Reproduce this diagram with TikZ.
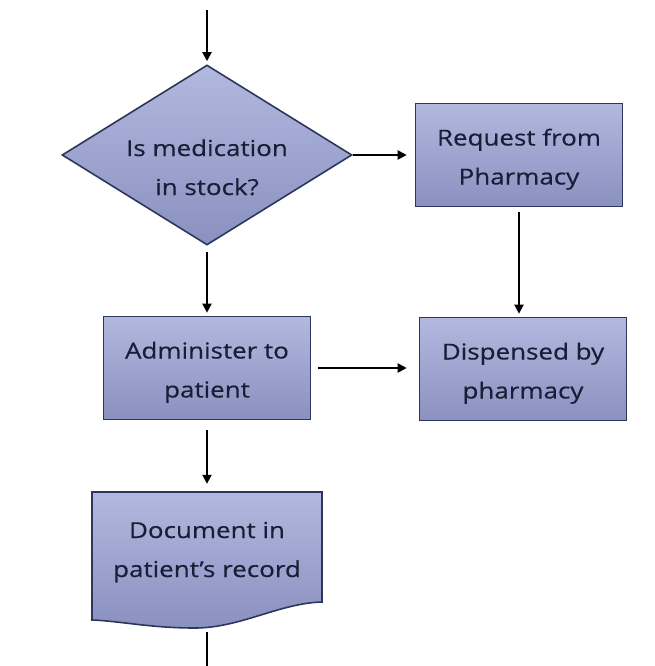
\documentclass[tikz,border=0pt]{standalone}
\usepackage{fontspec}
\setmainfont[FakeStretch=1.18,FakeBold=0.4]{Open Sans}
\usetikzlibrary{shapes.geometric,arrows.meta}
\definecolor{boxfill}{RGB}{152,159,204}
\definecolor{boxtop}{RGB}{178,184,222}
\definecolor{boxbot}{RGB}{138,145,192}
\definecolor{boxedge}{RGB}{44,55,92}
\definecolor{txt}{RGB}{24,30,54}
\begin{document}
\begin{tikzpicture}[x=1pt,y=-1pt,
  shade3/.style={top color=boxtop, middle color=boxfill, bottom color=boxbot, draw=boxedge, line width=1.6pt},
  lbl/.style={font=\fontsize{22}{39}\selectfont, text=txt, align=center},
  proc/.style={rectangle, shade3, lbl, minimum width=207pt, minimum height=103pt, inner sep=0pt, text height=59pt, text depth=0pt},
  dec/.style={diamond, aspect=1.611, shade3, lbl, minimum width=290pt, minimum height=180pt, inner xsep=0pt, inner ysep=-20pt, text height=80pt, text depth=0pt},
  arr/.style={line width=2pt, -{Triangle[length=9pt,width=9pt]}},
  ln/.style={line width=2pt}]
\useasboundingbox (0,0) rectangle (655,666);
\path[shade3] (92,492) -- (322,492) -- (322,602)
  .. controls (280,603) and (240,628) .. (195,628)
  .. controls (150,628) and (120,621) .. (92,620) -- cycle;
\node[dec] (q) at (207,155) {Is medication\\in stock?};
\node[proc] (req) at (519,155) {Request from\\Pharmacy};
\node[proc] (adm) at (207,368) {Administer to\\patient};
\node[proc] (dis) at (523,369) {Dispensed by\\pharmacy};
\node[lbl, rectangle, minimum width=230pt, minimum height=118pt, inner sep=0pt, text height=52pt, text depth=0pt] (doc) at (207,551) {Document in\\patient’s record};
\coordinate (top) at (207,10);
\coordinate (docb) at (207,632);
\coordinate (bot) at (207,666);
\draw[arr, shorten >=3pt] (top) -- (q.north);
\draw[arr, shorten >=8pt] (q.east) -- (req.west);
\draw[arr, shorten <=6pt, shorten >=3pt] (q.south) -- (adm.north);
\draw[arr, shorten <=5pt, shorten >=3pt] (req.south) -- (req.south |- dis.north);
\draw[arr, shorten <=7pt, shorten >=12pt] (adm.east) -- (adm.east -| dis.west);
\draw[arr, shorten <=10pt, shorten >=8pt] (adm.south) -- (doc.north);
\draw[ln] (docb) -- (bot);
\end{tikzpicture}
\end{document}
